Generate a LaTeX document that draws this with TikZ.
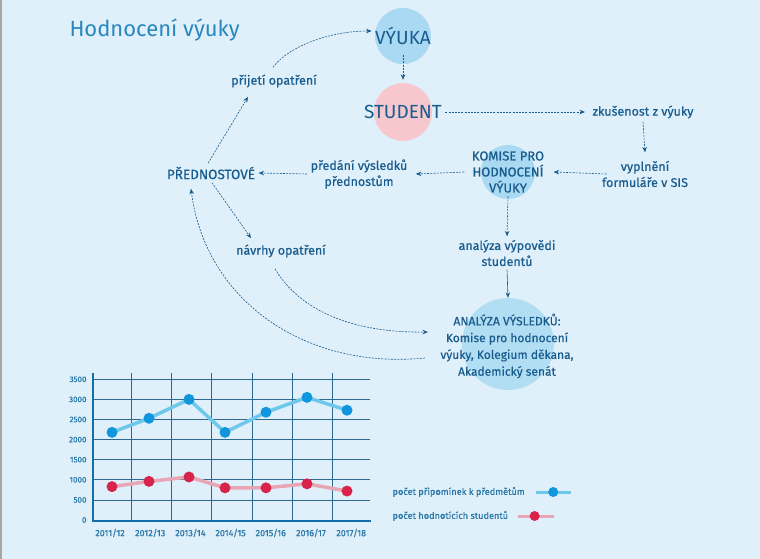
\documentclass[tikz,border=0pt]{standalone}
\usepackage{fontspec}
\setmainfont{Fira Sans}[FakeBold=0.6]
\newfontfamily\titlefont{Fira Sans}
\usepackage{xcolor}
\usepackage{tikz}
\usetikzlibrary{arrows.meta, positioning}
\definecolor{paper}{RGB}{223,240,250}
\definecolor{ink}{RGB}{25,92,142}
\definecolor{titleink}{RGB}{40,135,190}
\definecolor{bubbleblue}{RGB}{170,218,243}
\definecolor{bubblepink}{RGB}{246,200,206}
\definecolor{gridline}{RGB}{45,105,145}
\definecolor{axisline}{RGB}{20,110,170}
\definecolor{chartlabel}{RGB}{40,120,170}
\definecolor{remarkline}{RGB}{110,200,236}
\definecolor{remarkdot}{RGB}{15,150,220}
\definecolor{studentline}{RGB}{232,165,180}
\definecolor{studentdot}{RGB}{216,35,75}

\begin{document}
\begin{tikzpicture}[x=1pt, y=1pt, >={Stealth[length=5.5pt,width=4.5pt]}]
    % Define styles
    \tikzstyle{bubble} = [circle, inner sep=0pt, fill=bubbleblue]
    \tikzstyle{big} = [text=ink, font=\titlefont\fontsize{19}{22}\selectfont]
    \tikzstyle{note} = [text=ink, align=center, font=\fontsize{12.5}{16}\selectfont]
    \tikzstyle{flow} = [draw=ink, line width=0.6pt, dash pattern=on 2pt off 1.2pt, ->]
    \tikzstyle{solidflow} = [draw=ink, line width=0.6pt, ->]
    \tikzstyle{ticklabel} = [text=chartlabel, font=\fontsize{8}{9}\selectfont]

    % Background
    \useasboundingbox (0,0) rectangle (760,-559);
    \fill[paper] (0,0) rectangle (760,-559);
    \fill[black!35] (0,0) rectangle (2,-559);

    % Nodes
    \node (title) [anchor=west, text=titleink, font=\titlefont\fontsize{22}{26}\selectfont] at (66,-30) {Hodnocení výuky};
    \node (vyukabg) [bubble, minimum size=56pt] at (403,-36) {};
    \node (vyuka) [big] at (vyukabg) {VÝUKA};
    \node (studentbg) [bubble, fill=bubblepink, minimum size=58pt] at (403,-112) {};
    \node (student) [big] at (studentbg) {STUDENT};
    \node (zkusenost) [note] at (643,-112) {zkušenost z výuky};
    \node (vyplneni) [note] at (645,-174) {vyplnění\\formuláře v SIS};
    \node (komisebg) [bubble, minimum size=54pt] at (508,-172) {};
    \node (komise) [note, font=\fontsize{13}{16}\selectfont] at (komisebg) {KOMISE PRO\\HODNOCENÍ\\VÝUKY};
    \node (predani) [note] at (359,-174) {předání výsledků\\přednostům};
    \node (prednostove) [note, font=\fontsize{13.5}{16}\selectfont] at (211,-173) {PŘEDNOSTOVÉ};
    \node (prijeti) [note] at (274,-81) {přijetí opatření};
    \node (navrhy) [note] at (281,-251) {návrhy opatření};
    \node (vypovedi) [note] at (507,-253) {analýza výpovědi\\studentů};
    \node (analyzabg) [bubble, fill=bubbleblue!90!white, minimum size=92pt] at (508,-344) {};
    \node (analyza) [note, font=\fontsize{12}{16.8}\selectfont] at (507,-346) {ANALÝZA VÝSLEDKŮ:\\Komise pro hodnocení\\výuky, Kolegium děkana,\\Akademický senát};

    % Arrows
    \draw [flow] ([yshift=-19pt]vyuka.center) -- ([yshift=3pt]studentbg.north);
    \draw [flow] (student.east) -- ([xshift=-4pt]zkusenost.west);
    \draw [flow] (zkusenost.south) -- ([yshift=5pt]vyplneni.north);
    \draw [flow] ([xshift=8pt]vyplneni.west) -- ([xshift=6pt]komise.east);
    \draw [flow] ([xshift=-4pt]komise.west) -- ([xshift=5pt]predani.east);
    \draw [flow] (predani.west) -- (prednostove.east);
    \draw [flow] ([xshift=-3pt]prednostove.north) -- ([xshift=-26pt,yshift=-6pt]prijeti.south);
    \draw [flow] ([xshift=-1pt,yshift=4pt]prijeti.north) .. controls +(17,22) and +(-40,0) .. ([yshift=5pt]vyuka.west);
    \draw [flow] ([xshift=1pt]prednostove.south) -- ([xshift=-30pt,yshift=3pt]navrhy.north);
    \draw [flow] ([xshift=-6pt,yshift=-8pt]navrhy.south) .. controls +(25,-42) and +(-75,-1) .. ([xshift=-9pt,yshift=14pt]analyza.west);
    \draw [flow] ([xshift=-12pt,yshift=-12pt]analyza.west) .. controls +(-122,-12) and +(14,-110) .. ([xshift=-20pt,yshift=-6pt]prednostove.south);
    \draw [flow] (komise.south) -- (vypovedi.north);
    \draw [solidflow] (vypovedi.south) -- (analyzabg.north);

    % Chart
    \foreach \k in {1,...,7}
        \draw[gridline, line width=0.7pt] (93,{-520+20.1*\k}) -- (370,{-520+20.1*\k});
    \foreach \x in {131,171,211,252,292,332}
        \draw[gridline, line width=0.7pt] (\x,-373) -- (\x,-520);
    \draw[axisline, line width=2.5pt] (93,-373) -- (93,-521) -- (371,-521);
    \foreach \v [count=\k from 0] in {0,500,1000,1500,2000,2500,3000,3500}
        \node[ticklabel, anchor=east] at (90,{-520+20.1*\k}) {\v};
    \foreach \a/\b [count=\k from 0] in {2011/12,2012/13,2013/14,2014/15,2015/16,2016/17,2017/18}
        \node[ticklabel, font=\fontsize{9}{10}\selectfont] at ({110+40.2*\k},-533) {\a/\b};
    \begin{scope}[shift={(0,-520)}, y=0.0402pt]
        \draw[remarkline, line width=3.5pt, line join=round] (112,2180) -- (149,2530) -- (189,3000) -- (225,2180) -- (266,2680) -- (307,3050) -- (347,2730);
        \draw[studentline, line width=3.5pt, line join=round] (112,830) -- (149,960) -- (189,1070) -- (225,800) -- (266,800) -- (307,900) -- (347,720);
        \foreach \x/\v in {112/2180,149/2530,189/3000,225/2180,266/2680,307/3050,347/2730}
            \fill[remarkdot] (\x,\v) circle (5.5pt);
        \foreach \x/\v in {112/830,149/960,189/1070,225/800,266/800,307/900,347/720}
            \fill[studentdot] (\x,\v) circle (5.5pt);
    \end{scope}

    % Legend
    \node (legremark) [ticklabel, anchor=west, font=\fontsize{9.2}{10}\selectfont] at (389,-492) {počet připomínek k předmětům};
    \node (legstudent) [ticklabel, anchor=west, font=\fontsize{9.2}{10}\selectfont] at (389,-516) {počet hodnotících studentů};
    \draw[remarkline, line width=3pt] ([xshift=8pt]legremark.east) -- +(35,0);
    \fill[remarkdot] ([xshift=25pt]legremark.east) circle (5pt);
    \draw[studentline, line width=3pt] ([xshift=6pt]legstudent.east) -- +(36,0);
    \fill[studentdot] ([xshift=23pt]legstudent.east) circle (5pt);
\end{tikzpicture}
\end{document}
